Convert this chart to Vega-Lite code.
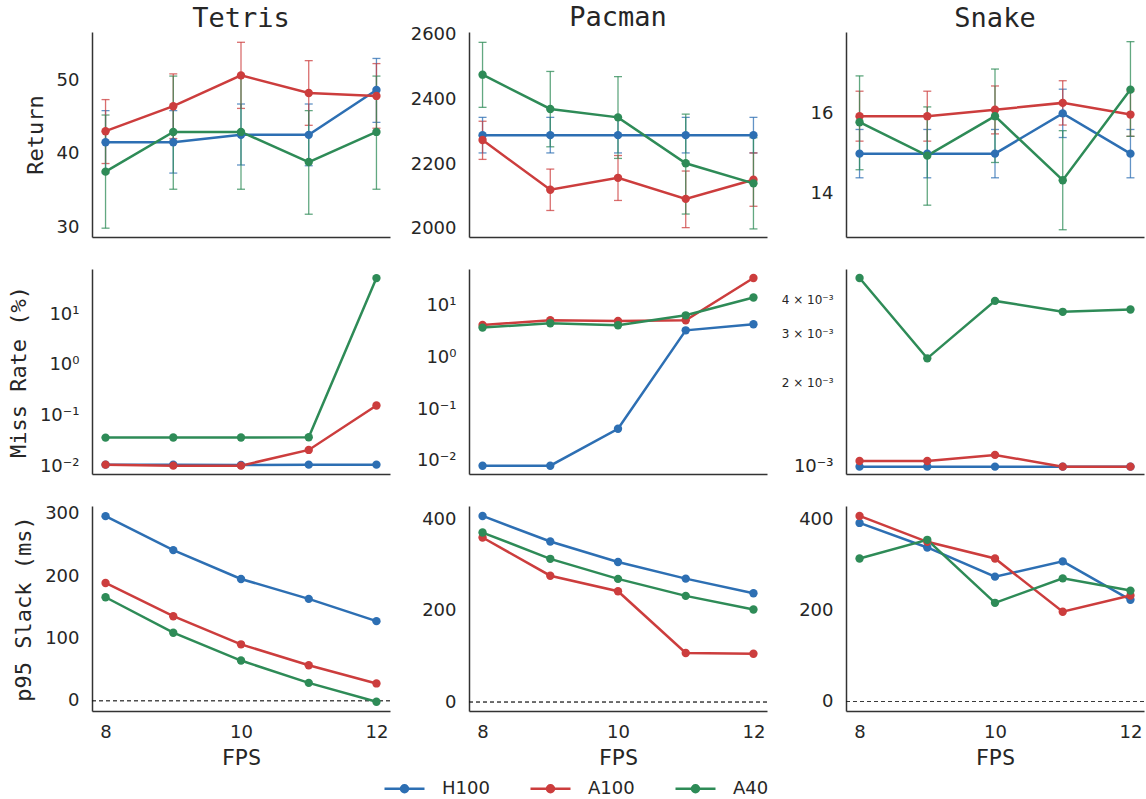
{
  "$schema": "https://vega.github.io/schema/vega-lite/v6.json",
  "background": "white",
  "padding": {"left": 7, "top": 3, "right": 3, "bottom": 0},
  "data": {"values": [
    {"g":"Tetris","x":8,"gpu":"H100","r":41.6,"lo":37.4,"hi":45.9,"m":0.011,"s":296},
    {"g":"Tetris","x":9,"gpu":"H100","r":41.6,"lo":37.4,"hi":45.9,"m":0.011,"s":241.6},
    {"g":"Tetris","x":10,"gpu":"H100","r":42.6,"lo":38.5,"hi":46.8,"m":0.0108,"s":195.3},
    {"g":"Tetris","x":11,"gpu":"H100","r":42.6,"lo":38.4,"hi":46.8,"m":0.011,"s":163.4},
    {"g":"Tetris","x":12,"gpu":"H100","r":48.7,"lo":44.3,"hi":53.0,"m":0.011,"s":127.7},
    {"g":"Tetris","x":8,"gpu":"A100","r":43.1,"lo":38.7,"hi":47.4,"m":0.011,"s":188.9},
    {"g":"Tetris","x":9,"gpu":"A100","r":46.5,"lo":42.1,"hi":50.9,"m":0.0105,"s":135.6},
    {"g":"Tetris","x":10,"gpu":"A100","r":50.7,"lo":46.2,"hi":55.2,"m":0.0105,"s":90.5},
    {"g":"Tetris","x":11,"gpu":"A100","r":48.3,"lo":43.9,"hi":52.7,"m":0.0214,"s":57},
    {"g":"Tetris","x":12,"gpu":"A100","r":47.9,"lo":43.5,"hi":52.3,"m":0.16,"s":27.8},
    {"g":"Tetris","x":8,"gpu":"A40","r":37.6,"lo":29.9,"hi":45.3,"m":0.0374,"s":166},
    {"g":"Tetris","x":9,"gpu":"A40","r":43.0,"lo":35.2,"hi":50.6,"m":0.0376,"s":109.1},
    {"g":"Tetris","x":10,"gpu":"A40","r":43.0,"lo":35.2,"hi":50.6,"m":0.0376,"s":64.5},
    {"g":"Tetris","x":11,"gpu":"A40","r":38.9,"lo":31.8,"hi":45.9,"m":0.038,"s":28.7},
    {"g":"Tetris","x":12,"gpu":"A40","r":43.0,"lo":35.2,"hi":50.6,"m":51,"s":-1.6},
    {"g":"Pacman","x":8,"gpu":"H100","r":2290,"lo":2235,"hi":2345,"m":0.0081,"s":408},
    {"g":"Pacman","x":9,"gpu":"H100","r":2290,"lo":2235,"hi":2345,"m":0.0081,"s":352},
    {"g":"Pacman","x":10,"gpu":"H100","r":2290,"lo":2235,"hi":2345,"m":0.042,"s":307},
    {"g":"Pacman","x":11,"gpu":"H100","r":2290,"lo":2235,"hi":2345,"m":3.38,"s":270.6},
    {"g":"Pacman","x":12,"gpu":"H100","r":2290,"lo":2235,"hi":2345,"m":4.43,"s":238.5},
    {"g":"Pacman","x":8,"gpu":"A100","r":2275,"lo":2215,"hi":2333,"m":4.29,"s":360.7},
    {"g":"Pacman","x":9,"gpu":"A100","r":2121,"lo":2057,"hi":2185,"m":5.3,"s":277},
    {"g":"Pacman","x":10,"gpu":"A100","r":2158,"lo":2088,"hi":2227,"m":5.13,"s":243},
    {"g":"Pacman","x":11,"gpu":"A100","r":2093,"lo":2004,"hi":2179,"m":5.3,"s":107.6},
    {"g":"Pacman","x":12,"gpu":"A100","r":2152,"lo":2070,"hi":2235,"m":34.8,"s":106},
    {"g":"Pacman","x":8,"gpu":"A40","r":2477,"lo":2376,"hi":2577,"m":3.82,"s":371.6},
    {"g":"Pacman","x":9,"gpu":"A40","r":2371,"lo":2254,"hi":2487,"m":4.63,"s":314},
    {"g":"Pacman","x":10,"gpu":"A40","r":2345,"lo":2218,"hi":2471,"m":4.23,"s":270},
    {"g":"Pacman","x":11,"gpu":"A40","r":2203,"lo":2046,"hi":2355,"m":6.6,"s":232.8},
    {"g":"Pacman","x":12,"gpu":"A40","r":2141,"lo":2000,"hi":2282,"m":14.6,"s":203},
    {"g":"Snake","x":8,"gpu":"H100","r":15.0,"lo":14.4,"hi":15.6,"m":0.001,"s":392.3},
    {"g":"Snake","x":9,"gpu":"H100","r":15.0,"lo":14.4,"hi":15.6,"m":0.001,"s":338.4},
    {"g":"Snake","x":10,"gpu":"H100","r":15.0,"lo":14.4,"hi":15.6,"m":0.001,"s":274.3},
    {"g":"Snake","x":11,"gpu":"H100","r":16.0,"lo":15.4,"hi":16.6,"m":0.001,"s":307.8},
    {"g":"Snake","x":12,"gpu":"H100","r":15.0,"lo":14.4,"hi":15.6,"m":0.001,"s":223.4},
    {"g":"Snake","x":8,"gpu":"A100","r":15.93,"lo":15.31,"hi":16.55,"m":0.001048,"s":407.7},
    {"g":"Snake","x":9,"gpu":"A100","r":15.93,"lo":15.31,"hi":16.55,"m":0.001048,"s":350.8},
    {"g":"Snake","x":10,"gpu":"A100","r":16.09,"lo":15.49,"hi":16.68,"m":0.001102,"s":314.3},
    {"g":"Snake","x":11,"gpu":"A100","r":16.26,"lo":15.71,"hi":16.81,"m":0.001,"s":197.2},
    {"g":"Snake","x":12,"gpu":"A100","r":15.97,"lo":15.43,"hi":16.55,"m":0.001,"s":232.8},
    {"g":"Snake","x":8,"gpu":"A40","r":15.78,"lo":14.6,"hi":16.93,"m":0.00476,"s":314.3},
    {"g":"Snake","x":9,"gpu":"A40","r":14.95,"lo":13.72,"hi":16.16,"m":0.00245,"s":355.2},
    {"g":"Snake","x":10,"gpu":"A40","r":15.93,"lo":14.78,"hi":17.1,"m":0.00394,"s":216.8},
    {"g":"Snake","x":11,"gpu":"A40","r":14.34,"lo":13.11,"hi":15.57,"m":0.0036,"s":270.6},
    {"g":"Snake","x":12,"gpu":"A40","r":16.59,"lo":15.43,"hi":17.78,"m":0.00367,"s":243.7}
  ]},
  "columns": 3,
  "bounds": "flush",
  "spacing": {"row": 32, "column": 79},
  "resolve": {"scale": {"color": "shared"}, "legend": {"color": "shared"}},
  "concat": [
    {
      "width": 298, "height": 205,
      "title": {"text": "Tetris", "offset": -1},
      "transform": [{"filter": "datum.g === 'Tetris'"}],
      "encoding": {
        "x": {"field": "x", "type": "quantitative", "scale": {"domain": [7.8, 12.2], "nice": false, "zero": false}, "axis": {"labels": false, "title": null}},
        "color": {"field": "gpu", "type": "nominal", "title": null, "scale": {"domain": ["H100","A100","A40"], "range": ["#2d6fb3","#cc3d3d","#2e8b57"]}, "legend": {"orient": "none", "legendX": 301, "legendY": 745, "direction": "horizontal", "symbolType": "M-2,0L2,0M-0.35,0A0.35,0.35 0 1,0 0.35,0A0.35,0.35 0 1,0 -0.35,0Z", "symbolSize": 400, "symbolStrokeWidth": 2.5, "labelOffset": 26, "columnPadding": 35, "labelFont": "DejaVu Sans", "labelFontSize": 18, "labelColor": "#262626", "padding": 0, "encode": {"symbols": {"update": {"fill": {"scale": "color", "field": "value"}, "stroke": {"scale": "color", "field": "value"}}}}}}
      },
      "layer": [
        {"mark": {"type": "errorbar", "orient": "vertical", "ticks": {"size": 8, "thickness": 1.3, "opacity": 0.75}, "rule": {"strokeWidth": 1.3, "opacity": 0.75}},
         "encoding": {"y": {"field": "lo", "type": "quantitative", "scale": {"domain": [28.7, 56.6], "nice": false, "zero": false}, "axis": {"values": [30, 40, 50], "title": "Return"}}, "y2": {"field": "hi"}}},
        {"mark": {"type": "line", "strokeWidth": 2.5}, "encoding": {"y": {"field": "r", "type": "quantitative", "scale": {"domain": [28.7, 56.6], "nice": false, "zero": false}, "axis": {"values": [30, 40, 50], "title": "Return"}}}},
        {"mark": {"type": "point", "filled": true, "size": 70, "opacity": 1}, "encoding": {"y": {"field": "r", "type": "quantitative", "scale": {"domain": [28.7, 56.6], "nice": false, "zero": false}, "axis": {"values": [30, 40, 50], "title": "Return"}}}}
      ]
    },
    {
      "width": 298, "height": 205,
      "title": {"text": "Pacman", "offset": -6},
      "transform": [{"filter": "datum.g === 'Pacman'"}],
      "encoding": {
        "x": {"field": "x", "type": "quantitative", "scale": {"domain": [7.8, 12.2], "nice": false, "zero": false}, "axis": {"labels": false, "title": null}},
        "color": {"field": "gpu", "type": "nominal", "title": null, "scale": {"domain": ["H100","A100","A40"], "range": ["#2d6fb3","#cc3d3d","#2e8b57"]}, "legend": {"orient": "none", "legendX": 301, "legendY": 745, "direction": "horizontal", "symbolType": "M-2,0L2,0M-0.35,0A0.35,0.35 0 1,0 0.35,0A0.35,0.35 0 1,0 -0.35,0Z", "symbolSize": 400, "symbolStrokeWidth": 2.5, "labelOffset": 26, "columnPadding": 35, "labelFont": "DejaVu Sans", "labelFontSize": 18, "labelColor": "#262626", "padding": 0, "encode": {"symbols": {"update": {"fill": {"scale": "color", "field": "value"}, "stroke": {"scale": "color", "field": "value"}}}}}}
      },
      "layer": [
        {"mark": {"type": "errorbar", "orient": "vertical", "ticks": {"size": 8, "thickness": 1.3, "opacity": 0.75}, "rule": {"strokeWidth": 1.3, "opacity": 0.75}},
         "encoding": {"y": {"field": "lo", "type": "quantitative", "scale": {"domain": [1975, 2609], "nice": false, "zero": false}, "axis": {"values": [2000, 2200, 2400, 2600], "format": "d", "title": null}}, "y2": {"field": "hi"}}},
        {"mark": {"type": "line", "strokeWidth": 2.5}, "encoding": {"y": {"field": "r", "type": "quantitative", "scale": {"domain": [1975, 2609], "nice": false, "zero": false}, "axis": {"values": [2000, 2200, 2400, 2600], "format": "d", "title": null}}}},
        {"mark": {"type": "point", "filled": true, "size": 70, "opacity": 1}, "encoding": {"y": {"field": "r", "type": "quantitative", "scale": {"domain": [1975, 2609], "nice": false, "zero": false}, "axis": {"values": [2000, 2200, 2400, 2600], "format": "d", "title": null}}}}
      ]
    },
    {
      "width": 298, "height": 205,
      "title": {"text": "Snake", "offset": -1},
      "transform": [{"filter": "datum.g === 'Snake'"}],
      "encoding": {
        "x": {"field": "x", "type": "quantitative", "scale": {"domain": [7.8, 12.2], "nice": false, "zero": false}, "axis": {"labels": false, "title": null}},
        "color": {"field": "gpu", "type": "nominal", "title": null, "scale": {"domain": ["H100","A100","A40"], "range": ["#2d6fb3","#cc3d3d","#2e8b57"]}, "legend": {"orient": "none", "legendX": 301, "legendY": 745, "direction": "horizontal", "symbolType": "M-2,0L2,0M-0.35,0A0.35,0.35 0 1,0 0.35,0A0.35,0.35 0 1,0 -0.35,0Z", "symbolSize": 400, "symbolStrokeWidth": 2.5, "labelOffset": 26, "columnPadding": 35, "labelFont": "DejaVu Sans", "labelFontSize": 18, "labelColor": "#262626", "padding": 0, "encode": {"symbols": {"update": {"fill": {"scale": "color", "field": "value"}, "stroke": {"scale": "color", "field": "value"}}}}}}
      },
      "layer": [
        {"mark": {"type": "errorbar", "orient": "vertical", "ticks": {"size": 8, "thickness": 1.3, "opacity": 0.75}, "rule": {"strokeWidth": 1.3, "opacity": 0.75}},
         "encoding": {"y": {"field": "lo", "type": "quantitative", "scale": {"domain": [12.93, 18.02], "nice": false, "zero": false}, "axis": {"values": [14, 16], "title": null}}, "y2": {"field": "hi"}}},
        {"mark": {"type": "line", "strokeWidth": 2.5}, "encoding": {"y": {"field": "r", "type": "quantitative", "scale": {"domain": [12.93, 18.02], "nice": false, "zero": false}, "axis": {"values": [14, 16], "title": null}}}},
        {"mark": {"type": "point", "filled": true, "size": 70, "opacity": 1}, "encoding": {"y": {"field": "r", "type": "quantitative", "scale": {"domain": [12.93, 18.02], "nice": false, "zero": false}, "axis": {"values": [14, 16], "title": null}}}}
      ]
    },
    {
      "width": 298, "height": 205,
      "transform": [{"filter": "datum.g === 'Tetris'"}],
      "encoding": {
        "x": {"field": "x", "type": "quantitative", "scale": {"domain": [7.8, 12.2], "nice": false, "zero": false}, "axis": {"labels": false, "title": null}},
        "y": {"field": "m", "type": "quantitative", "scale": {"type": "log", "domain": [0.0072, 77], "nice": false}, "axis": {"values": [0.01, 0.1, 1, 10], "title": "Miss Rate (%)", "labelExpr": "datum.value > 5 ? '10¹' : datum.value > 0.5 ? '10⁰' : datum.value > 0.05 ? '10⁻¹' : '10⁻²'"}},
        "color": {"field": "gpu", "type": "nominal", "title": null, "scale": {"domain": ["H100","A100","A40"], "range": ["#2d6fb3","#cc3d3d","#2e8b57"]}, "legend": {"orient": "none", "legendX": 301, "legendY": 745, "direction": "horizontal", "symbolType": "M-2,0L2,0M-0.35,0A0.35,0.35 0 1,0 0.35,0A0.35,0.35 0 1,0 -0.35,0Z", "symbolSize": 400, "symbolStrokeWidth": 2.5, "labelOffset": 26, "columnPadding": 35, "labelFont": "DejaVu Sans", "labelFontSize": 18, "labelColor": "#262626", "padding": 0, "encode": {"symbols": {"update": {"fill": {"scale": "color", "field": "value"}, "stroke": {"scale": "color", "field": "value"}}}}}}
      },
      "layer": [
        {"mark": {"type": "line", "strokeWidth": 2.5}},
        {"mark": {"type": "point", "filled": true, "size": 70, "opacity": 1}}
      ]
    },
    {
      "width": 298, "height": 205,
      "transform": [{"filter": "datum.g === 'Pacman'"}],
      "encoding": {
        "x": {"field": "x", "type": "quantitative", "scale": {"domain": [7.8, 12.2], "nice": false, "zero": false}, "axis": {"labels": false, "title": null}},
        "y": {"field": "m", "type": "quantitative", "scale": {"type": "log", "domain": [0.0056, 52], "nice": false}, "axis": {"values": [0.01, 0.1, 1, 10], "title": null, "labelExpr": "datum.value > 5 ? '10¹' : datum.value > 0.5 ? '10⁰' : datum.value > 0.05 ? '10⁻¹' : '10⁻²'"}},
        "color": {"field": "gpu", "type": "nominal", "title": null, "scale": {"domain": ["H100","A100","A40"], "range": ["#2d6fb3","#cc3d3d","#2e8b57"]}, "legend": {"orient": "none", "legendX": 301, "legendY": 745, "direction": "horizontal", "symbolType": "M-2,0L2,0M-0.35,0A0.35,0.35 0 1,0 0.35,0A0.35,0.35 0 1,0 -0.35,0Z", "symbolSize": 400, "symbolStrokeWidth": 2.5, "labelOffset": 26, "columnPadding": 35, "labelFont": "DejaVu Sans", "labelFontSize": 18, "labelColor": "#262626", "padding": 0, "encode": {"symbols": {"update": {"fill": {"scale": "color", "field": "value"}, "stroke": {"scale": "color", "field": "value"}}}}}}
      },
      "layer": [
        {"mark": {"type": "line", "strokeWidth": 2.5}},
        {"mark": {"type": "point", "filled": true, "size": 70, "opacity": 1}}
      ]
    },
    {
      "width": 298, "height": 205,
      "transform": [{"filter": "datum.g === 'Snake'"}],
      "encoding": {
        "x": {"field": "x", "type": "quantitative", "scale": {"domain": [7.8, 12.2], "nice": false, "zero": false}, "axis": {"labels": false, "title": null}},
        "y": {"field": "m", "type": "quantitative", "scale": {"type": "log", "domain": [0.000941, 0.00513], "nice": false}, "axis": {"values": [0.001, 0.002, 0.003, 0.004], "title": null, "labelExpr": "datum.value < 0.0015 ? '10⁻³' : datum.value < 0.0025 ? '2 × 10⁻³' : datum.value < 0.0035 ? '3 × 10⁻³' : '4 × 10⁻³'", "labelFontSize": {"condition": {"test": "datum.value > 0.0015", "value": 12}, "value": 18}}},
        "color": {"field": "gpu", "type": "nominal", "title": null, "scale": {"domain": ["H100","A100","A40"], "range": ["#2d6fb3","#cc3d3d","#2e8b57"]}, "legend": {"orient": "none", "legendX": 301, "legendY": 745, "direction": "horizontal", "symbolType": "M-2,0L2,0M-0.35,0A0.35,0.35 0 1,0 0.35,0A0.35,0.35 0 1,0 -0.35,0Z", "symbolSize": 400, "symbolStrokeWidth": 2.5, "labelOffset": 26, "columnPadding": 35, "labelFont": "DejaVu Sans", "labelFontSize": 18, "labelColor": "#262626", "padding": 0, "encode": {"symbols": {"update": {"fill": {"scale": "color", "field": "value"}, "stroke": {"scale": "color", "field": "value"}}}}}}
      },
      "layer": [
        {"mark": {"type": "line", "strokeWidth": 2.5}},
        {"mark": {"type": "point", "filled": true, "size": 70, "opacity": 1}}
      ]
    },
    {
      "width": 298, "height": 205,
      "transform": [{"filter": "datum.g === 'Tetris'"}],
      "encoding": {
        "x": {"field": "x", "type": "quantitative", "scale": {"domain": [7.8, 12.2], "nice": false, "zero": false}, "axis": {"values": [8, 10, 12], "format": "d", "title": "FPS"}},
        "y": {"field": "s", "type": "quantitative", "scale": {"domain": [-16.4, 312.3], "nice": false, "zero": false}, "axis": {"values": [0, 100, 200, 300], "title": "p95 Slack (ms)"}},
        "color": {"field": "gpu", "type": "nominal", "title": null, "scale": {"domain": ["H100","A100","A40"], "range": ["#2d6fb3","#cc3d3d","#2e8b57"]}, "legend": {"orient": "none", "legendX": 301, "legendY": 745, "direction": "horizontal", "symbolType": "M-2,0L2,0M-0.35,0A0.35,0.35 0 1,0 0.35,0A0.35,0.35 0 1,0 -0.35,0Z", "symbolSize": 400, "symbolStrokeWidth": 2.5, "labelOffset": 26, "columnPadding": 35, "labelFont": "DejaVu Sans", "labelFontSize": 18, "labelColor": "#262626", "padding": 0, "encode": {"symbols": {"update": {"fill": {"scale": "color", "field": "value"}, "stroke": {"scale": "color", "field": "value"}}}}}}
      },
      "layer": [
        {"mark": {"type": "rule", "strokeDash": [4, 3], "color": "#222222", "strokeWidth": 1, "opacity": 0.12}, "encoding": {"x": {"datum": 7.8}, "x2": {"datum": 12.2}, "y": {"datum": 0}, "color": {"value": "#222222"}}},
        {"mark": {"type": "line", "strokeWidth": 2.5}},
        {"mark": {"type": "point", "filled": true, "size": 70, "opacity": 1}}
      ]
    },
    {
      "width": 298, "height": 205,
      "transform": [{"filter": "datum.g === 'Pacman'"}],
      "encoding": {
        "x": {"field": "x", "type": "quantitative", "scale": {"domain": [7.8, 12.2], "nice": false, "zero": false}, "axis": {"values": [8, 10, 12], "format": "d", "title": "FPS"}},
        "y": {"field": "s", "type": "quantitative", "scale": {"domain": [-19.6, 429.8], "nice": false, "zero": false}, "axis": {"values": [0, 200, 400], "title": null}},
        "color": {"field": "gpu", "type": "nominal", "title": null, "scale": {"domain": ["H100","A100","A40"], "range": ["#2d6fb3","#cc3d3d","#2e8b57"]}, "legend": {"orient": "none", "legendX": 301, "legendY": 745, "direction": "horizontal", "symbolType": "M-2,0L2,0M-0.35,0A0.35,0.35 0 1,0 0.35,0A0.35,0.35 0 1,0 -0.35,0Z", "symbolSize": 400, "symbolStrokeWidth": 2.5, "labelOffset": 26, "columnPadding": 35, "labelFont": "DejaVu Sans", "labelFontSize": 18, "labelColor": "#262626", "padding": 0, "encode": {"symbols": {"update": {"fill": {"scale": "color", "field": "value"}, "stroke": {"scale": "color", "field": "value"}}}}}}
      },
      "layer": [
        {"mark": {"type": "rule", "strokeDash": [4, 3], "color": "#222222", "strokeWidth": 1, "opacity": 0.12}, "encoding": {"x": {"datum": 7.8}, "x2": {"datum": 12.2}, "y": {"datum": 0}, "color": {"value": "#222222"}}},
        {"mark": {"type": "line", "strokeWidth": 2.5}},
        {"mark": {"type": "point", "filled": true, "size": 70, "opacity": 1}}
      ]
    },
    {
      "width": 298, "height": 205,
      "transform": [{"filter": "datum.g === 'Snake'"}],
      "encoding": {
        "x": {"field": "x", "type": "quantitative", "scale": {"domain": [7.8, 12.2], "nice": false, "zero": false}, "axis": {"values": [8, 10, 12], "format": "d", "title": "FPS"}},
        "y": {"field": "s", "type": "quantitative", "scale": {"domain": [-20.8, 429.5], "nice": false, "zero": false}, "axis": {"values": [0, 200, 400], "title": null}},
        "color": {"field": "gpu", "type": "nominal", "title": null, "scale": {"domain": ["H100","A100","A40"], "range": ["#2d6fb3","#cc3d3d","#2e8b57"]}, "legend": {"orient": "none", "legendX": 301, "legendY": 745, "direction": "horizontal", "symbolType": "M-2,0L2,0M-0.35,0A0.35,0.35 0 1,0 0.35,0A0.35,0.35 0 1,0 -0.35,0Z", "symbolSize": 400, "symbolStrokeWidth": 2.5, "labelOffset": 26, "columnPadding": 35, "labelFont": "DejaVu Sans", "labelFontSize": 18, "labelColor": "#262626", "padding": 0, "encode": {"symbols": {"update": {"fill": {"scale": "color", "field": "value"}, "stroke": {"scale": "color", "field": "value"}}}}}}
      },
      "layer": [
        {"mark": {"type": "rule", "strokeDash": [4, 3], "color": "#222222", "strokeWidth": 1, "opacity": 0.12}, "encoding": {"x": {"datum": 7.8}, "x2": {"datum": 12.2}, "y": {"datum": 0}, "color": {"value": "#222222"}}},
        {"mark": {"type": "line", "strokeWidth": 2.5}},
        {"mark": {"type": "point", "filled": true, "size": 70, "opacity": 1}}
      ]
    }
  ],
  "config": {
    "view": {"stroke": null},
    "axis": {"grid": false, "ticks": false, "domainColor": "#333333", "domainWidth": 1.5, "labelFont": "DejaVu Sans", "labelFontSize": 18, "labelColor": "#262626", "labelPadding": 13, "titleFont": "DejaVu Sans Mono", "titleFontSize": 22, "titleFontWeight": "normal", "titleColor": "#262626", "titlePadding": 9},
    "axisX": {"labelPadding": 12, "titlePadding": 6},
    "title": {"font": "DejaVu Sans Mono", "fontSize": 27, "fontWeight": "normal", "color": "#262626", "anchor": "middle", "frame": "group"}
  }
}
